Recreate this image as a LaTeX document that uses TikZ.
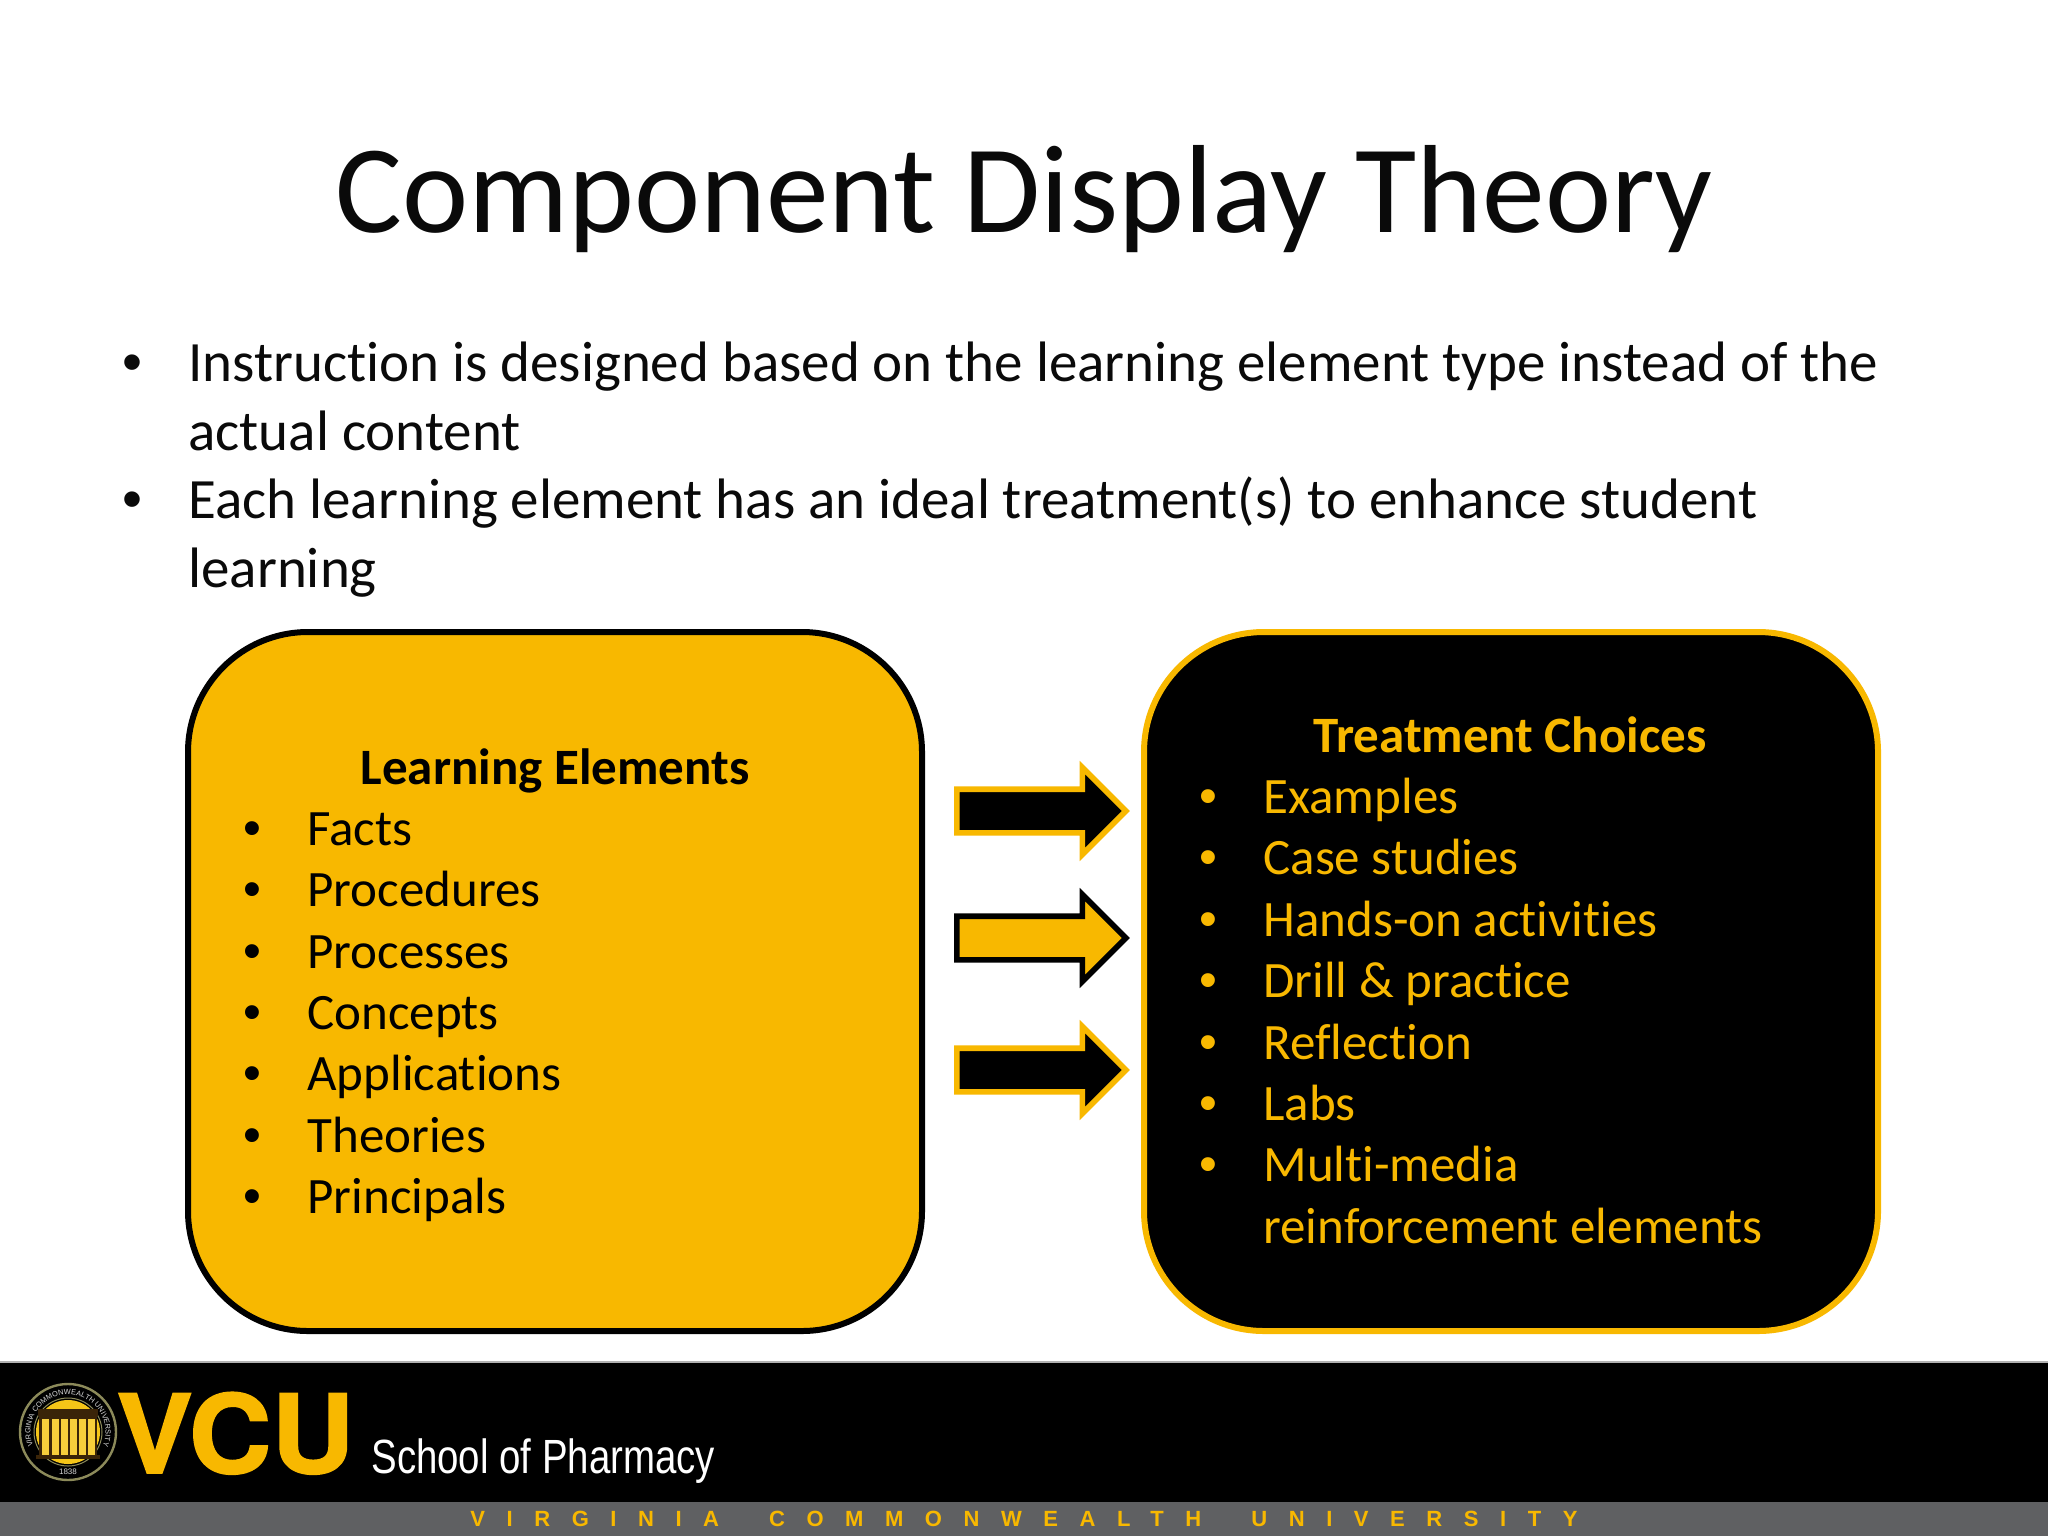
\documentclass[tikz,border=0pt]{standalone}
\usepackage{fontspec}
\usepackage{graphicx}
\setmainfont[Ligatures=NoCommon]{Carlito}
\newfontfamily\heros{TeX Gyre Heros}
\newfontfamily\libs{Liberation Sans}
\usetikzlibrary{shapes.arrows,decorations.text}
\definecolor{vcugold}{HTML}{F8B800}
\definecolor{sealgold}{HTML}{F5C518}
\definecolor{sealdark}{HTML}{3A2408}
\definecolor{sealring}{HTML}{8C8A5A}
\definecolor{ink}{HTML}{0A0A0A}
\definecolor{band}{HTML}{5F6062}
\tikzset{
  titletext/.style={anchor=base,font=\fontsize{62.7}{66}\selectfont,text=ink,inner sep=0},
  bodytext/.style={anchor=base west,font=\fontsize{28.5}{30}\selectfont,text=ink,inner sep=0},
  bodybullet/.style={anchor=base west,font=\libs\fontsize{28.5}{30}\selectfont,text=ink,inner sep=0},
  boxtext/.style={anchor=base west,font=\fontsize{25.5}{28}\selectfont,inner sep=0},
  boxbullet/.style={anchor=base west,font=\libs\fontsize{25.5}{28}\selectfont,inner sep=0},
  boxhead/.style={anchor=base,font=\fontsize{25.5}{28}\selectfont\bfseries,inner sep=0},
  roundbox/.style={rounded corners=60pt,line width=3pt},
  blockarrow/.style={shape=single arrow,anchor=tail,single arrow head extend=10.8pt,single arrow tip angle=90,
    minimum height=84.5pt,inner xsep=0pt,inner ysep=9.5pt,line width=2.8pt,miter limit=10},
}
\begin{document}
\begin{tikzpicture}[x=0.5pt,y=-0.5pt]
\useasboundingbox (0,0) rectangle (2048,1536);
\fill[white] (0,0) rectangle (2048,1536);
\node[titletext] (title) at (1024,232) {Component Display Theory};
% body
\node[bodybullet] (b1) at (122,381) {•};
\node[bodytext] (l1) at (188,381) {Instruction is designed based on the learning element type instead of the};
\node[bodytext] (l2) at (188,450) {actual content};
\node[bodybullet] (b2) at (122,518) {•};
\node[bodytext] (l3) at (188,518) {Each learning element has an ideal treatment(s) to enhance student};
\node[bodytext] (l4) at (188,587) {learning};
% boxes
\draw[roundbox,fill=vcugold,draw=black] (188,632) rectangle (922,1331);
\draw[roundbox,fill=black,draw=vcugold] (1144,632) rectangle (1878,1331);
\node[boxhead,text=black] (lh) at (555,784) {Learning Elements};
\foreach \t [count=\i from 0] in {Facts,Procedures,Processes,Concepts,Applications,Theories,Principals}{
  \node[boxbullet,text=black] (lb\i) at (243,{845.3+61.4*\i}) {•};
  \node[boxtext,text=black] (lt\i) at (307,{845.3+61.4*\i}) {\t};
}
\node[boxhead,text=vcugold] (rh) at (1510,752) {Treatment Choices};
\foreach \t [count=\i from 0] in {Examples,Case studies,Hands-on activities,Drill \& practice,Reflection,Labs,Multi-media}{
  \node[boxbullet,text=vcugold] (rb\i) at (1199,{813.5+61.4*\i}) {•};
  \node[boxtext,text=vcugold] (rt\i) at (1263,{813.5+61.4*\i}) {\t};
}
\node[boxtext,text=vcugold] (rt7) at (1263,1243.5) {reinforcement elements};
% arrows
\node[blockarrow,fill=black,draw=vcugold] (a1) at (954,811) {};
\node[blockarrow,fill=vcugold,draw=black] (a2) at (954,938) {};
\node[blockarrow,fill=black,draw=vcugold] (a3) at (954,1070) {};
% footer
\fill[black] (0,1363) rectangle (2048,1502);
\fill[band] (0,1502) rectangle (2048,1536);
\draw[black!30,line width=1pt] (0,1362) -- (2048,1362);
\node[anchor=base west,inner sep=0,text=vcugold,font=\libs\fontsize{11}{12}\selectfont\bfseries\addfontfeature{LetterSpace=98}] (vculine) at (470,1526) {VIRGINIA\hspace{25pt}COMMONWEALTH\hspace{25pt}UNIVERSITY};
\node[anchor=base west,inner sep=0,text=vcugold,font=\heros\bfseries\fontsize{54.5}{57}\selectfont\addfontfeature{FakeBold=1.5}] (vcu) at (116,1473) {\scalebox{1.05}[1]{VCU}};
\node[anchor=base west,inner sep=0,text=white,font=\libs\fontsize{24}{24}\selectfont] (sop) at (371,1473) {\scalebox{.8}[1]{School of Pharmacy}};
% seal
\begin{scope}[shift={(68,1432)},x=0.5pt,y=0.5pt]
  \draw[sealring,line width=1.2pt,fill=black] (0,0) circle (48);
  \draw[sealring,line width=.5pt] (0,0) circle (34);
  \fill[sealgold] (0,0) circle (32);
  \path[decorate,decoration={text along path,text align=center,
     text={|\libs\fontsize{3.7}{4}\selectfont\color{white!85!black}|VIRGINIA COMMONWEALTH UNIVERSITY}}]
     (205:37.5) arc (205:-25:37.5);
  \fill[sealdark] (-30,23) rectangle (30,16);
  \fill[sealdark] (-29,16) rectangle (29,-23);
  \foreach \c in {-23,-13,-4,5,14,23}{\fill[sealgold!85!white] (\c-3.5,13) rectangle (\c+3.5,-23);}
  \fill[sealdark] (-32,-23) rectangle (32,-27);
  \node[inner sep=0,text=white!85!black,font=\libs\fontsize{4}{4}\selectfont] (year) at (0,-40) {1838};
\end{scope}
\end{tikzpicture}
\end{document}
